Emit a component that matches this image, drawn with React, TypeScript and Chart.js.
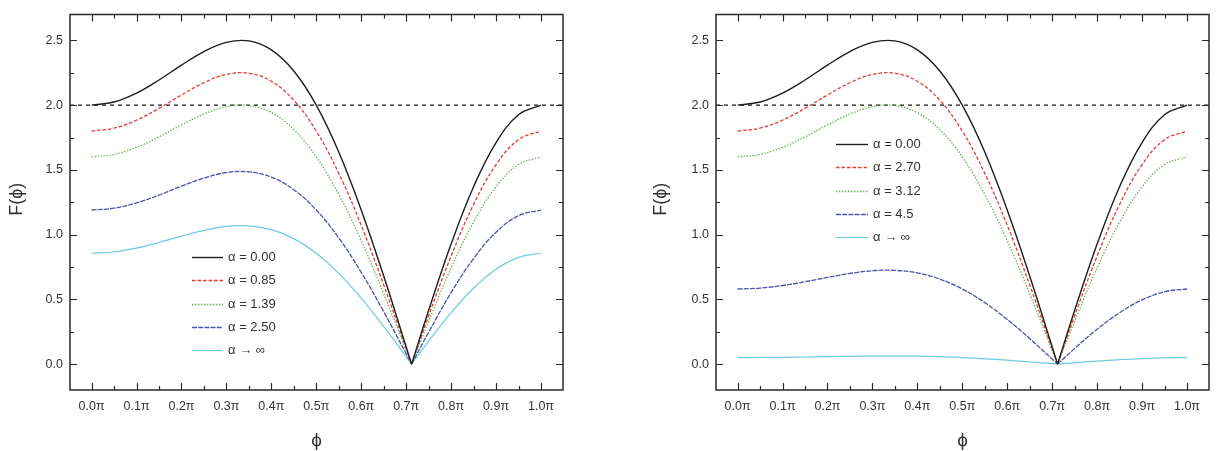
import { useEffect, useRef } from "react";
import { Chart, registerables } from "chart.js";

Chart.register(...registerables);

// Phase samples (in units of π); 0.712 is the node where every curve vanishes.
const PHI = [0, 0.05, 0.1, 0.15, 0.2, 0.25, 0.3, 0.35, 0.4, 0.45, 0.5, 0.55, 0.6, 0.65, 0.7, 0.712, 0.75, 0.8, 0.85, 0.9, 0.95, 1.0];
const NODE_INDEX = 15;

// Left panel series
const F_A000 = [2.000, 2.024, 2.093, 2.194, 2.309, 2.414, 2.485, 2.496, 2.427, 2.264, 2.000, 1.638, 1.191, 0.680, 0.134, 0, 0.414, 0.927, 1.370, 1.711, 1.926, 2.000];
const F_A085 = [1.800, 1.822, 1.884, 1.975, 2.078, 2.173, 2.237, 2.246, 2.184, 2.038, 1.800, 1.474, 1.072, 0.612, 0.121, 0, 0.373, 0.834, 1.233, 1.540, 1.733, 1.800];
const F_A139 = [1.600, 1.619, 1.674, 1.755, 1.847, 1.931, 1.988, 1.997, 1.942, 1.811, 1.600, 1.310, 0.953, 0.544, 0.107, 0, 0.331, 0.742, 1.096, 1.369, 1.541, 1.600];
const F_A250 = [1.190, 1.204, 1.245, 1.305, 1.374, 1.436, 1.479, 1.485, 1.444, 1.347, 1.190, 0.975, 0.709, 0.405, 0.080, 0, 0.246, 0.552, 0.815, 1.018, 1.146, 1.190];
const F_AINF_L = [0.856, 0.866, 0.896, 0.939, 0.988, 1.033, 1.064, 1.068, 1.039, 0.969, 0.856, 0.701, 0.510, 0.291, 0.057, 0, 0.177, 0.397, 0.586, 0.732, 0.824, 0.856];

// Right panel series
const F_A270 = [1.800, 1.822, 1.884, 1.975, 2.078, 2.173, 2.237, 2.246, 2.184, 2.038, 1.800, 1.474, 1.072, 0.612, 0.121, 0, 0.373, 0.834, 1.233, 1.540, 1.733, 1.800];
const F_A312 = [1.600, 1.619, 1.674, 1.755, 1.847, 1.931, 1.988, 1.997, 1.942, 1.811, 1.600, 1.310, 0.953, 0.544, 0.107, 0, 0.331, 0.742, 1.096, 1.369, 1.541, 1.600];
const F_A450 = [0.580, 0.587, 0.607, 0.636, 0.670, 0.700, 0.721, 0.724, 0.704, 0.657, 0.580, 0.475, 0.345, 0.197, 0.039, 0, 0.120, 0.269, 0.397, 0.496, 0.559, 0.580];
const F_AINF_R = [0.050, 0.051, 0.052, 0.055, 0.058, 0.060, 0.062, 0.062, 0.061, 0.057, 0.050, 0.041, 0.030, 0.017, 0.003, 0, 0.010, 0.023, 0.034, 0.043, 0.048, 0.050];

const LEFT_LABELS = ["α = 0.00", "α = 0.85", "α = 1.39", "α = 2.50", "α → ∞"];
const RIGHT_LABELS = ["α = 0.00", "α = 2.70", "α = 3.12", "α = 4.5", "α → ∞"];

const X_TICKS = [0, 0.1, 0.2, 0.3, 0.4, 0.5, 0.6, 0.7, 0.8, 0.9, 1.0];
const X_MINOR = [0.05, 0.15, 0.25, 0.35, 0.45, 0.55, 0.65, 0.75, 0.85, 0.95];
const Y_TICKS = [0, 0.5, 1.0, 1.5, 2.0, 2.5];
const Y_MINOR = [0.25, 0.75, 1.25, 1.75, 2.25];
const X_MIN = -0.048;
const X_MAX = 1.049;
const Y_MIN = -0.2;
const Y_MAX = 2.7;
const REF_LEVEL = 2.0;

const X_TITLE = "ϕ";
const Y_TITLE = "F(ϕ)";

const STYLES = [
  { color: "#1e1e1e", dash: [] as number[], width: 1.4 },
  { color: "#e8382c", dash: [3.5, 2], width: 1.3 },
  { color: "#5cb64c", dash: [1.4, 1.6], width: 1.3 },
  { color: "#4a52aa", dash: [5, 1.2], width: 1.3 },
  { color: "#6ccbe4", dash: [] as number[], width: 1.2 },
];

const FONT = "'Liberation Sans', Arial, sans-serif";
const TEXT = "#333333";

type PanelProps = {
  series: number[][];
  labels: string[];
  width: number;
  areaLeft: number;
  areaRight: number;
  yTitleX: number;
  legend: { lineX0: number; lineX1: number; textX: number; y0: number; dy: number };
};

const framePlugin = {
  id: "frame",
  afterDraw(chart: any, _args: any, opts: any) {
    const { ctx, chartArea: a, scales } = chart;
    const xs = scales.x;
    const ys = scales.y;
    ctx.save();
    ctx.strokeStyle = "#2a2a2a";
    ctx.lineWidth = 1.5;
    ctx.strokeRect(a.left, a.top, a.right - a.left, a.bottom - a.top);

    ctx.lineWidth = 1.2;
    const xTick = (v: number, len: number) => {
      const p = Math.round(xs.getPixelForValue(v)) + 0.5;
      ctx.beginPath();
      ctx.moveTo(p, a.bottom);
      ctx.lineTo(p, a.bottom - len);
      ctx.moveTo(p, a.top);
      ctx.lineTo(p, a.top + len);
      ctx.stroke();
    };
    const yTick = (v: number, len: number) => {
      const p = Math.round(ys.getPixelForValue(v)) + 0.5;
      ctx.beginPath();
      ctx.moveTo(a.left, p);
      ctx.lineTo(a.left + len, p);
      ctx.moveTo(a.right, p);
      ctx.lineTo(a.right - len, p);
      ctx.stroke();
    };
    X_TICKS.forEach((v) => xTick(v, 7));
    X_MINOR.forEach((v) => xTick(v, 4));
    Y_TICKS.forEach((v) => yTick(v, 7));
    Y_MINOR.forEach((v) => yTick(v, 4));

    // axis titles
    ctx.fillStyle = TEXT;
    ctx.textAlign = "center";
    ctx.textBaseline = "middle";
    ctx.font = `19px ${FONT}`;
    ctx.fillText(X_TITLE, (a.left + a.right) / 2, 441);
    ctx.save();
    ctx.translate(opts.yTitleX, (a.top + a.bottom) / 2 - 3);
    ctx.rotate(-Math.PI / 2);
    ctx.font = `18px ${FONT}`;
    ctx.fillText(Y_TITLE, 0, 0);
    ctx.restore();

    // legend
    const lg = opts.legend;
    ctx.font = `13px ${FONT}`;
    ctx.textAlign = "left";
    opts.labels.forEach((label: string, i: number) => {
      const st = STYLES[i];
      const y = Math.round(lg.y0 + i * lg.dy) + 0.5;
      ctx.strokeStyle = st.color;
      ctx.lineWidth = st.width;
      ctx.setLineDash(st.dash);
      ctx.beginPath();
      ctx.moveTo(lg.lineX0, y);
      ctx.lineTo(lg.lineX1, y);
      ctx.stroke();
      ctx.setLineDash([]);
      ctx.fillStyle = TEXT;
      ctx.fillText(label, lg.textX, y);
    });
    ctx.restore();
  },
};

function Panel(props: PanelProps) {
  const ref = useRef<HTMLCanvasElement | null>(null);

  useEffect(() => {
    if (!ref.current) return;
    const datasets: any[] = [];
    props.series.forEach((vals, i) => {
      const st = STYLES[i];
      const pts = PHI.map((x, k) => ({ x, y: vals[k] }));
      // split at the node so the V-shaped minimum stays sharp
      const parts = [pts.slice(0, NODE_INDEX + 1), pts.slice(NODE_INDEX)];
      parts.forEach((data) => {
        datasets.push({
          label: props.labels[i],
          data,
          borderColor: st.color,
          borderDash: st.dash,
          borderWidth: st.width,
          pointRadius: 0,
          fill: false,
          tension: 0.4,
        });
      });
    });
    datasets.push({
      label: "reference",
      data: [
        { x: X_MIN, y: REF_LEVEL },
        { x: X_MAX, y: REF_LEVEL },
      ],
      borderColor: "#222222",
      borderDash: [4, 4],
      borderWidth: 1.3,
      pointRadius: 0,
      fill: false,
    });

    const chart = new Chart(ref.current, {
      type: "line",
      data: { datasets },
      options: {
        animation: false,
        responsive: false,
        devicePixelRatio: 1,
        layout: { padding: { top: 13, right: props.width - props.areaRight, left: 0, bottom: 0 } },
        plugins: {
          legend: { display: false },
          tooltip: { enabled: false },
          frame: {
            yTitleX: props.yTitleX,
            legend: props.legend,
            labels: props.labels,
          },
        } as any,
        scales: {
          x: {
            type: "linear",
            min: X_MIN,
            max: X_MAX,
            afterBuildTicks: (s: any) => {
              s.ticks = X_TICKS.map((v) => ({ value: v }));
            },
            afterFit: (s: any) => {
              s.height = 61;
            },
            ticks: {
              autoSkip: false,
              maxRotation: 0,
              padding: 9,
              color: TEXT,
              font: { family: FONT, size: 12.5 },
              callback: (v: any) => Number(v).toFixed(1) + "π",
            },
            grid: { display: false, drawTicks: false },
            border: { display: false },
          },
          y: {
            type: "linear",
            min: Y_MIN,
            max: Y_MAX,
            afterBuildTicks: (s: any) => {
              s.ticks = Y_TICKS.map((v) => ({ value: v }));
            },
            afterFit: (s: any) => {
              s.width = props.areaLeft;
            },
            ticks: {
              autoSkip: false,
              padding: 7,
              color: TEXT,
              font: { family: FONT, size: 12.5 },
              callback: (v: any) => Number(v).toFixed(1),
            },
            grid: { display: false, drawTicks: false },
            border: { display: false },
          },
        },
      },
      plugins: [framePlugin],
    });
    return () => chart.destroy();
  }, []);

  return <canvas ref={ref} width={props.width} height={451} style={{ display: "block", width: props.width, height: 451 }} />;
}

export default function App() {
  return (
    <div style={{ position: "absolute", left: 0, top: 0, width: 1225, height: 451, background: "#ffffff", display: "flex" }}>
      <Panel
        series={[F_A000, F_A085, F_A139, F_A250, F_AINF_L]}
        labels={LEFT_LABELS}
        width={612}
        areaLeft={70}
        areaRight={563}
        yTitleX={17}
        legend={{ lineX0: 192, lineX1: 223, textX: 228, y0: 257, dy: 23.3 }}
      />
      <Panel
        series={[F_A000, F_A270, F_A312, F_A450, F_AINF_R]}
        labels={RIGHT_LABELS}
        width={613}
        areaLeft={104}
        areaRight={597}
        yTitleX={49}
        legend={{ lineX0: 224, lineX1: 256, textX: 261, y0: 144, dy: 23.3 }}
      />
    </div>
  );
}
